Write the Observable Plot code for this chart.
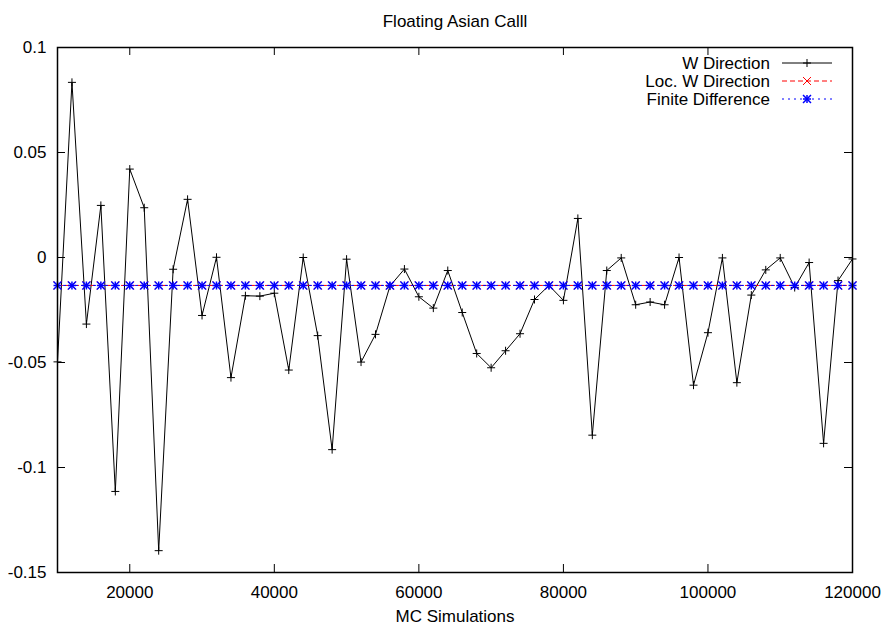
<!DOCTYPE html>
<html>
<head>
<meta charset="utf-8">
<script src="https://cdn.jsdelivr.net/npm/d3@7"></script>
<script src="https://cdn.jsdelivr.net/npm/@observablehq/plot@0.6"></script>
<style>
  html, body { margin: 0; padding: 0; background: #fff; }
</style>
</head>
<body>
<div id="chart"></div>
<script>
const simulations = [
  10000, 12000, 14000, 16000, 18000, 20000, 22000, 24000, 26000, 28000,
  30000, 32000, 34000, 36000, 38000, 40000, 42000, 44000, 46000, 48000,
  50000, 52000, 54000, 56000, 58000, 60000, 62000, 64000, 66000, 68000,
  70000, 72000, 74000, 76000, 78000, 80000, 82000, 84000, 86000, 88000,
  90000, 92000, 94000, 96000, 98000, 100000, 102000, 104000, 106000, 108000,
  110000, 112000, 114000, 116000, 118000, 120000
];
const wDirection = [
  -0.0497, 0.0834, -0.0317, 0.0248, -0.1114, 0.0421, 0.0237, -0.1396, -0.0056, 0.0277,
  -0.0276, 0.0001, -0.0572, -0.0182, -0.0184, -0.0170, -0.0536, 0.0000, -0.0372, -0.0915,
  -0.0008, -0.0498, -0.0366, -0.0136, -0.0055, -0.0187, -0.0241, -0.0062, -0.0262, -0.0457,
  -0.0525, -0.0444, -0.0363, -0.0200, -0.0133, -0.0204, 0.0186, -0.0846, -0.0062, -0.0002,
  -0.0225, -0.0212, -0.0225, 0.0000, -0.0608, -0.0358, -0.0002, -0.0596, -0.0179, -0.0059,
  -0.0002, -0.0143, -0.0024, -0.0885, -0.0110, -0.0007
];
const locWDirection = [
  -0.0133, -0.0133, -0.0133, -0.0133, -0.0133, -0.0133, -0.0133, -0.0133, -0.0133, -0.0133,
  -0.0133, -0.0133, -0.0133, -0.0133, -0.0133, -0.0133, -0.0133, -0.0133, -0.0133, -0.0133,
  -0.0133, -0.0133, -0.0133, -0.0133, -0.0133, -0.0133, -0.0133, -0.0133, -0.0133, -0.0133,
  -0.0133, -0.0133, -0.0133, -0.0133, -0.0133, -0.0133, -0.0133, -0.0133, -0.0133, -0.0133,
  -0.0133, -0.0133, -0.0133, -0.0133, -0.0133, -0.0133, -0.0133, -0.0133, -0.0133, -0.0133,
  -0.0133, -0.0133, -0.0133, -0.0133, -0.0133, -0.0133
];
const finiteDifference = [
  -0.0133, -0.0133, -0.0133, -0.0133, -0.0133, -0.0133, -0.0133, -0.0133, -0.0133, -0.0133,
  -0.0133, -0.0133, -0.0133, -0.0133, -0.0133, -0.0133, -0.0133, -0.0133, -0.0133, -0.0133,
  -0.0133, -0.0133, -0.0133, -0.0133, -0.0133, -0.0133, -0.0133, -0.0133, -0.0133, -0.0133,
  -0.0133, -0.0133, -0.0133, -0.0133, -0.0133, -0.0133, -0.0133, -0.0133, -0.0133, -0.0133,
  -0.0133, -0.0133, -0.0133, -0.0133, -0.0133, -0.0133, -0.0133, -0.0133, -0.0133, -0.0133,
  -0.0133, -0.0133, -0.0133, -0.0133, -0.0133, -0.0133
];
const xTicks = [20000, 40000, 60000, 80000, 100000, 120000];
const xTickLabels = ["20000", "40000", "60000", "80000", "100000", "120000"];
const yTicks = [0.1, 0.05, 0, -0.05, -0.1, -0.15];
const yTickLabels = ["0.1", "0.05", "0", "-0.05", "-0.1", "-0.15"];
const seriesNames = ["W Direction", "Loc. W Direction", "Finite Difference"];
const titleText = "Floating Asian Calll";
const xLabelText = "MC Simulations";

const rows = simulations.map((x, i) => ({
  x, w: wDirection[i], loc: locWDirection[i], fd: finiteDifference[i]
}));

const W = 886, H = 630, mL = 57, mR = 34, mT = 47, mB = 58;
const fw = W - mL - mR, fh = H - mT - mB;
const tickLen = 8;
const FONT = "'Liberation Sans', Arial, Helvetica, sans-serif";
const PLUS_R = 2.7, TIMES_R = 3.7;

const plot = Plot.plot({
  width: W, height: H,
  marginLeft: mL, marginRight: mR, marginTop: mT, marginBottom: mB,
  style: { fontFamily: FONT, fontSize: "17px", background: "#fff", color: "#000" },
  x: {
    domain: [10000, 120000], ticks: xTicks,
    tickFormat: d => xTickLabels[xTicks.indexOf(d)],
    tickSize: 0, tickPadding: 13, label: null
  },
  y: {
    domain: [-0.15, 0.1], ticks: yTicks,
    tickFormat: d => yTickLabels[yTicks.indexOf(d)],
    tickSize: 0, tickPadding: 11, label: null
  },
  marks: [
    // inward ticks on all four sides
    Plot.tickX(xTicks, { x: d => d, insetTop: fh - tickLen, stroke: "#000" }),
    Plot.tickX(xTicks, { x: d => d, insetBottom: fh - tickLen, stroke: "#000" }),
    Plot.tickY(yTicks, { y: d => d, insetRight: fw - tickLen, stroke: "#000" }),
    Plot.tickY(yTicks, { y: d => d, insetLeft: fw - tickLen, stroke: "#000" }),
    // W Direction
    Plot.line(rows, { x: "x", y: "w", stroke: "#000", strokeWidth: 1 }),
    Plot.dot(rows, { x: "x", y: "w", symbol: "plus", r: PLUS_R, stroke: "#000", fill: "none", strokeWidth: 1 }),
    // Loc. W Direction
    Plot.line(rows, { x: "x", y: "loc", stroke: "#ff0000", strokeWidth: 1, strokeDasharray: "5,3" }),
    Plot.dot(rows, { x: "x", y: "loc", symbol: "times", r: TIMES_R, stroke: "#ff0000", fill: "none", strokeWidth: 1 }),
    // Finite Difference
    Plot.line(rows, { x: "x", y: "fd", stroke: "#0000ff", strokeWidth: 1, strokeDasharray: "2,4" }),
    Plot.dot(rows, { x: "x", y: "fd", symbol: "plus", r: PLUS_R, stroke: "#0000ff", fill: "none", strokeWidth: 1.5 }),
    Plot.dot(rows, { x: "x", y: "fd", symbol: "times", r: TIMES_R, stroke: "#0000ff", fill: "none", strokeWidth: 1.5 }),
    Plot.frame({ stroke: "#000", strokeWidth: 1.5 }),
    Plot.text([titleText], { text: d => d, frameAnchor: "top", dy: -33, fill: "#000", fontSize: 17 }),
    Plot.text([xLabelText], { text: d => d, frameAnchor: "bottom", dy: 49, fill: "#000", fontSize: 17 })
  ]
});

// Legend (top right inside the frame)
const svg = d3.select(plot);
const lg = svg.append("g").attr("font-family", FONT).attr("font-size", 17);
const legendSpec = [
  { name: seriesNames[0], stroke: "#000", dash: null, sw: 1, syms: [[d3.symbolPlus, PLUS_R]] },
  { name: seriesNames[1], stroke: "#ff0000", dash: "5,3", sw: 1, syms: [[d3.symbolTimes, TIMES_R]] },
  { name: seriesNames[2], stroke: "#0000ff", dash: "2,4", sw: 1.5, syms: [[d3.symbolPlus, PLUS_R], [d3.symbolTimes, TIMES_R]] }
];
const textRight = W - mR - 82, lineX1 = W - mR - 70, lineX2 = W - mR - 20;
const markX = (lineX1 + lineX2) / 2;
legendSpec.forEach((d, i) => {
  const y = mT + 16 + i * 18;
  lg.append("text").attr("x", textRight).attr("y", y).attr("dy", "0.35em")
    .attr("text-anchor", "end").attr("fill", "#000").text(d.name);
  lg.append("line").attr("x1", lineX1).attr("x2", lineX2).attr("y1", y).attr("y2", y)
    .attr("stroke", d.stroke).attr("stroke-width", 1).attr("stroke-dasharray", d.dash);
  d.syms.forEach(([type, r]) => {
    lg.append("path").attr("transform", `translate(${markX},${y})`)
      .attr("d", d3.symbol(type, Math.PI * r * r)())
      .attr("fill", "none").attr("stroke", d.stroke).attr("stroke-width", d.sw);
  });
});

document.getElementById("chart").appendChild(plot);
</script>
</body>
</html>
